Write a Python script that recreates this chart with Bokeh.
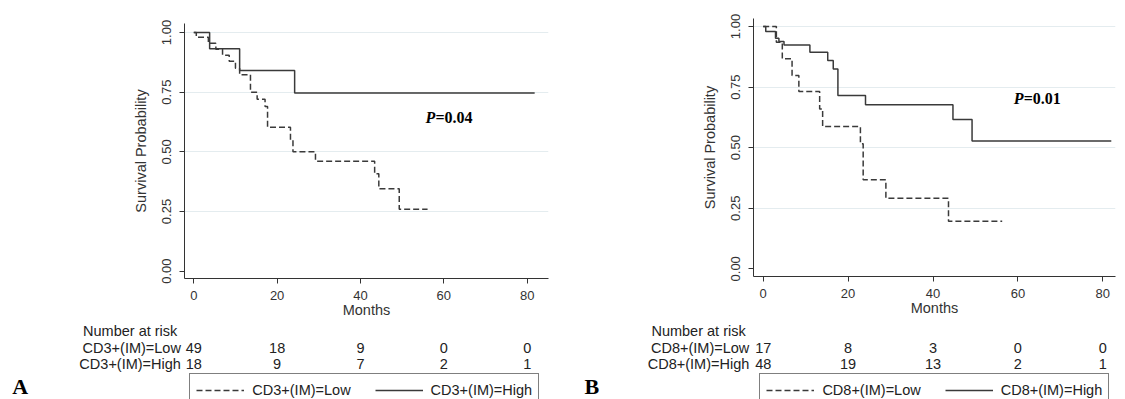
from bokeh.plotting import figure
from bokeh.models import Range1d, FixedTicker, Label, Legend, LegendItem, NumeralTickFormatter
from bokeh.layouts import row, column
from bokeh.embed import file_html
from bokeh.resources import INLINE
from bokeh.core.properties import value

# ---------------- data ----------------
# Panel A: CD3+(IM)
cd3_low_t = [0, 0.6, 3.5, 5.3, 6.9, 8.5, 10.0, 11.0, 13.6, 15.2, 17.1, 17.7, 23.2, 23.8, 29.2, 43.4, 44.4, 49.3, 56.1]
cd3_low_s = [1.0, 0.98, 0.955, 0.93, 0.905, 0.88, 0.85, 0.823, 0.75, 0.72, 0.69, 0.603, 0.55, 0.50, 0.461, 0.408, 0.345, 0.26, 0.26]
cd3_high_t = [0, 3.8, 11.0, 24.2, 81.8]
cd3_high_s = [1.0, 0.932, 0.841, 0.747, 0.747]

# Panel B: CD8+(IM)
cd8_low_t = [0, 3.1, 4.5, 6.8, 8.4, 13.3, 14.0, 22.9, 23.55, 28.9, 43.65, 56.3]
cd8_low_s = [1.0, 0.935, 0.867, 0.798, 0.732, 0.66, 0.587, 0.516, 0.367, 0.291, 0.196, 0.196]
cd8_high_t = [0, 0.6, 2.9, 3.7, 4.9, 11.0, 15.2, 16.5, 17.6, 24.1, 44.7, 49.2, 82.0]
cd8_high_s = [1.0, 0.979, 0.952, 0.938, 0.924, 0.894, 0.86, 0.825, 0.715, 0.677, 0.616, 0.527, 0.527]

x_ticks = [0, 20, 40, 60, 80]
y_ticks = [0.0, 0.25, 0.5, 0.75, 1.0]
grid_ticks = [0.25, 0.5, 0.75, 1.0]

risk_times = [0, 20, 40, 60, 80]
cd3_low_risk = [49, 18, 9, 0, 0]
cd3_high_risk = [18, 9, 7, 2, 1]
cd8_low_risk = [17, 8, 3, 0, 0]
cd8_high_risk = [48, 19, 13, 2, 1]

p_text_A = "=0.04"
p_text_B = "=0.01"

# ---------------- styling ----------------
SANS = "Liberation Sans"
SERIF = "Liberation Serif"
INK = "#333333"
TXT = "#222222"
LINE = "#3a3a3a"
GRID = "#e4ecef"
DASH = "6 3"
TOP_H = 320
BOT_H = 79


def make_panel(col_w, mb_l, mb_r, mb_t, mb_b, xr, yr,
               low_t, low_s, high_t, high_s, low_risk, high_risk,
               low_lab, high_lab, ptxt, p_pos, letter, letter_x, leg_x, lab_x):
    # ---- survival plot ----
    p = figure(width=col_w, height=TOP_H, x_range=Range1d(*xr), y_range=Range1d(*yr),
               output_backend="svg", toolbar_location=None, frame_align=False,
               min_border_left=mb_l, min_border_right=mb_r,
               min_border_top=mb_t, min_border_bottom=mb_b,
               background_fill_color="white", border_fill_color="white",
               outline_line_color=None)
    p.xgrid.visible = False
    p.ygrid.ticker = FixedTicker(ticks=grid_ticks)
    p.ygrid.grid_line_color = GRID
    p.ygrid.grid_line_width = 1

    for ax in (p.xaxis[0], p.yaxis[0]):
        ax.axis_line_color = INK
        ax.major_tick_line_color = INK
        ax.minor_tick_line_color = None
        ax.major_tick_out = 5
        ax.major_tick_in = 0
        ax.major_label_text_font = SANS
        ax.major_label_text_font_size = "13px"
        ax.major_label_text_color = INK
        ax.axis_label_text_font = SANS
        ax.axis_label_text_font_size = "14.5px"
        ax.axis_label_text_font_style = "normal"
        ax.axis_label_text_color = INK

    p.xaxis.ticker = FixedTicker(ticks=x_ticks)
    p.xaxis.axis_label = "Months"
    p.xaxis.major_label_standoff = 7
    p.xaxis.axis_label_standoff = -1

    p.yaxis.ticker = FixedTicker(ticks=y_ticks)
    p.yaxis.formatter = NumeralTickFormatter(format="0.00")
    p.yaxis.major_label_orientation = "vertical"
    p.yaxis.major_label_standoff = 8
    p.yaxis.axis_label = "Survival Probability"
    p.yaxis.axis_label_standoff = 11

    p.step(low_t, low_s, mode="after", line_color=LINE, line_width=1.5, line_dash=DASH)
    p.step(high_t, high_s, mode="after", line_color=LINE, line_width=1.5)

    p.text(x=[p_pos[0]], y=[p_pos[1]], text=["P"], text_font=value(SERIF),
           text_font_style="bold italic", text_font_size="16px", text_color="black",
           text_align="left", text_baseline="middle")
    p.text(x=[p_pos[0]], y=[p_pos[1]], text=[ptxt], text_font=value(SERIF),
           text_font_style="bold", text_font_size="16px", text_color="black",
           text_align="left", text_baseline="middle", x_offset=10)

    # ---- risk table + legend: full-width frame, same month scale as the plot ----
    frame_w = col_w - mb_l - mb_r
    scale = frame_w / (xr[1] - xr[0])
    bx0 = xr[0] - mb_l / scale
    bx1 = xr[1] + mb_r / scale
    b = figure(width=col_w, height=BOT_H, x_range=Range1d(bx0, bx1), y_range=Range1d(0, BOT_H),
               output_backend="svg", toolbar_location=None, frame_align=False,
               x_axis_location=None, y_axis_location=None, min_border=0,
               background_fill_color="white", border_fill_color="white",
               outline_line_color=None)
    b.grid.visible = False

    title_y, row1_y, row2_y = 68.7, 51.6, 35.6
    b.add_layout(Label(x=lab_x - 3.6, y=title_y, x_units="screen", y_units="screen",
                       text="Number at risk", text_align="right", text_baseline="middle",
                       text_font=SANS, text_font_size="14.5px", text_color=TXT))
    for lab, ry, risk in ((low_lab, row1_y, low_risk), (high_lab, row2_y, high_risk)):
        b.add_layout(Label(x=lab_x, y=ry, x_units="screen", y_units="screen",
                           text=lab, text_align="right", text_baseline="middle",
                           text_font=SANS, text_font_size="14.5px", text_color=TXT))
        b.text(x=risk_times, y=[ry] * len(risk_times), text=[str(v) for v in risk],
               text_align="center", text_baseline="middle", text_font=value(SANS),
               text_font_size="14.5px", text_color=TXT)

    nan = float("nan")
    r_low = b.line(x=[nan], y=[nan], line_color=LINE, line_width=1.5, line_dash=DASH)
    r_high = b.line(x=[nan], y=[nan], line_color=LINE, line_width=1.5)
    leg = Legend(items=[LegendItem(label=low_lab, renderers=[r_low]),
                        LegendItem(label=high_lab, renderers=[r_high])],
                 location=(leg_x, -8), orientation="horizontal",
                 label_text_font=SANS, label_text_font_size="14.5px", label_text_color=TXT,
                 glyph_width=48, glyph_height=20, label_height=20, label_standoff=8,
                 spacing=24, padding=6, margin=0,
                 border_line_color="black", border_line_width=1,
                 background_fill_color="white", background_fill_alpha=1.0)
    b.add_layout(leg)

    b.add_layout(Label(x=letter_x, y=1, x_units="screen", y_units="screen", text=letter,
                       text_font=SERIF, text_font_style="bold", text_font_size="22px",
                       text_color="black", text_baseline="bottom", text_align="left"))
    return column(p, b)


left = make_panel(570, 184, 22, 23, 42, (-2.23, 85.12), (-0.0306, 1.0377),
                  cd3_low_t, cd3_low_s, cd3_high_t, cd3_high_s, cd3_low_risk, cd3_high_risk,
                  "CD3+(IM)=Low", "CD3+(IM)=High", p_text_A, (55.6, 0.645), "A", 11.7, 189.3, 180.4)
right = make_panel(555, 183, 10, 18, 44, (-2.285, 82.99), (-0.0318, 1.033),
                   cd8_low_t, cd8_low_s, cd8_high_t, cd8_high_s, cd8_low_risk, cd8_high_risk,
                   "CD8+(IM)=Low", "CD8+(IM)=High", p_text_B, (59.0, 0.702), "B", 14, 189.4, 178.8)

layout = row(left, right)
open("out.html", "w").write(file_html(layout, INLINE))
